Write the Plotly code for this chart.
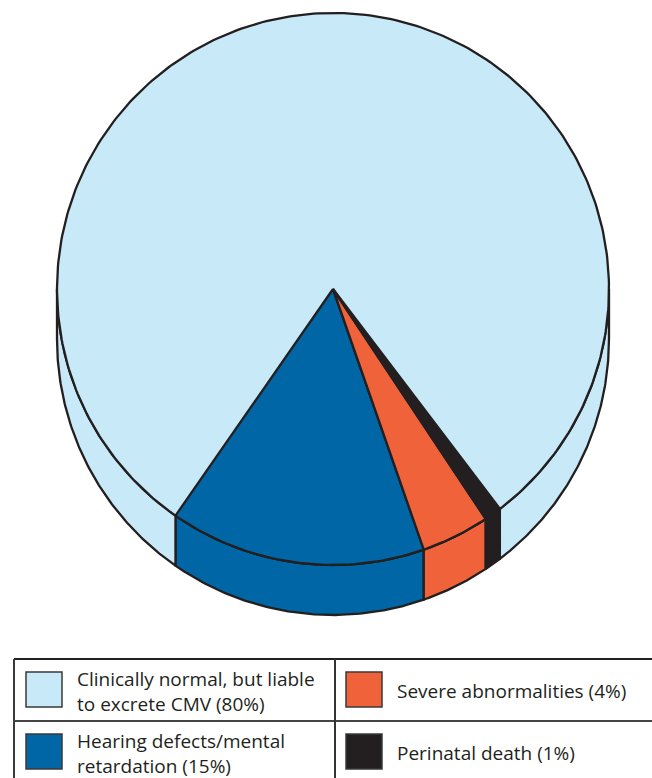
import numpy as np
import plotly.graph_objects as go

# Outcome shares (%) for congenital CMV infection, drawn clockwise from the front-left
categories = ["Hearing defects/mental retardation", "Severe abnormalities",
              "Perinatal death", "Clinically normal, but liable to excrete CMV"]
shares = [15, 4, 1, 80]
colors = ["#0066A6", "#F0623A", "#231F20", "#C8E9F8"]

# Legend cells: (row, column, text, index into categories)
legend_cells = [
    (0, 0, "Clinically normal, but liable<br>to excrete CMV (80%)", 3),
    (0, 1, "Severe abnormalities (4%)", 1),
    (1, 0, "Hearing defects/mental<br>retardation (15%)", 0),
    (1, 1, "Perinatal death (1%)", 2),
]

# Pie geometry (pixel units, y grows downward)
W, H = 652, 778
CX, CY, R, DEPTH = 333, 289, 276, 50
START = -34.8          # degrees from straight down, positive toward the right
EDGE = "#231F20"


def pt(theta_deg, cy):
    t = np.radians(theta_deg)
    return CX + R * np.sin(t), cy + R * np.cos(t)


def arc(a1, a2, cy, n=120):
    th = np.linspace(a1, a2, n)
    x, y = pt(th, cy)
    return list(x), list(y)


def visible(a1, a2):
    """Parts of [a1, a2] that lie on the front half (-90..90)."""
    out = []
    for shift in (0, -360, 360):
        lo, hi = max(a1 + shift, -90), min(a2 + shift, 90)
        if hi > lo:
            out.append((lo, hi))
    return out


# Angular extent of every slice
spans = []
a = START
for s in shares:
    spans.append((a, a + s / 100 * 360))
    a += s / 100 * 360

fig = go.Figure()


def poly(xs, ys, fill, width=2.3):
    fig.add_trace(go.Scatter(
        x=xs, y=ys, mode="lines", fill="toself", fillcolor=fill,
        line=dict(color=EDGE, width=width), hoverinfo="skip", showlegend=False))


# Side band of the cylinder (front half only)
for (a1, a2), col in zip(spans, colors):
    for lo, hi in visible(a1, a2):
        tx, ty = arc(lo, hi, CY)
        bx, by = arc(hi, lo, CY + DEPTH)
        poly(tx + bx + [tx[0]], ty + by + [ty[0]], col)

# Top face: full disc, then the highlighted wedges over it
dx, dy = arc(0, 360, CY, 400)
poly(dx, dy, colors[3])
for (a1, a2), col in list(zip(spans, colors))[:3]:
    ax, ay = arc(a1, a2, CY, 60)
    poly([CX] + ax + [CX], [CY] + ay + [CY], col)

# Legend table
LX0, LY0, ROW_H, COL_X = 14, 659, 62, 335
shapes = [
    dict(type="line", x0=LX0, y0=LY0, x1=W + 5, y1=LY0, line=dict(color=EDGE, width=2.2)),
    dict(type="line", x0=LX0, y0=LY0, x1=LX0, y1=H + 5, line=dict(color="#3a3a3a", width=2)),
    dict(type="line", x0=LX0, y0=LY0 + ROW_H, x1=W + 5, y1=LY0 + ROW_H, line=dict(color="#444444", width=1.8)),
    dict(type="line", x0=COL_X, y0=LY0, x1=COL_X, y1=H + 5, line=dict(color="#333333", width=2)),
]
annotations = []
for row, col, text, idx in legend_cells:
    x0 = 26 if col == 0 else 346
    y0 = LY0 + 13 + row * ROW_H
    shapes.append(dict(type="rect", x0=x0, y0=y0, x1=x0 + 36, y1=y0 + 35,
                       fillcolor=colors[idx], line=dict(color="#3a3a3a", width=1.5)))
    annotations.append(dict(
        x=x0 + 49, y=y0 + 19, text=text, showarrow=False, xanchor="left", yanchor="middle",
        align="left", font=dict(family="Open Sans", size=19, color="#231F20")))

fig.update_layout(
    width=W, height=H, margin=dict(l=0, r=0, t=0, b=0),
    paper_bgcolor="white", plot_bgcolor="white",
    xaxis=dict(range=[0, W], visible=False, fixedrange=True),
    yaxis=dict(range=[H, 0], visible=False, fixedrange=True),
    shapes=shapes, annotations=annotations, showlegend=False,
)

fig.write_html("out.html")
